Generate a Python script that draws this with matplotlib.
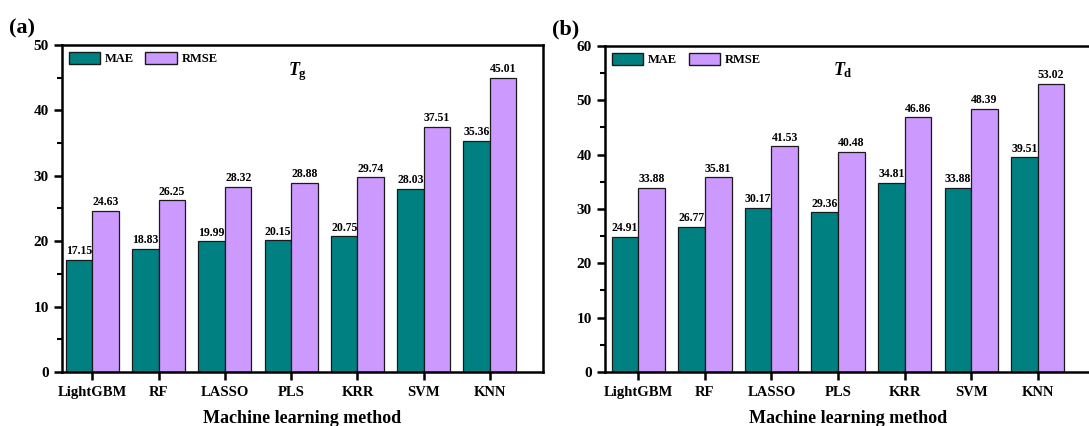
import matplotlib.pyplot as plt
import numpy as np
from matplotlib.ticker import MultipleLocator
from matplotlib.patches import Patch

plt.rcParams['font.family'] = ['Liberation Serif', 'DejaVu Serif']
plt.rcParams['font.weight'] = 'bold'
plt.rcParams['mathtext.fontset'] = 'custom'
plt.rcParams['mathtext.it'] = 'Liberation Serif:italic:bold'
plt.rcParams['mathtext.rm'] = 'Liberation Serif:bold'

methods = ['LightGBM', 'RF', 'LASSO', 'PLS', 'KRR', 'SVM', 'KNN']

# glass transition temperature errors
tg_mae = [17.15, 18.83, 19.99, 20.15, 20.75, 28.03, 35.36]
tg_rmse = [24.63, 26.25, 28.32, 28.88, 29.74, 37.51, 45.01]

# decomposition temperature errors
td_mae = [24.91, 26.77, 30.17, 29.36, 34.81, 33.88, 39.51]
td_rmse = [33.88, 35.81, 41.53, 40.48, 46.86, 48.39, 53.02]

MAE_COLOR = '#008080'
RMSE_COLOR = '#CC99FF'
EDGE = '#1a1a1a'


def draw_panel(ax, mae, rmse, ymax, subtitle, tag, xlim):
    x = np.arange(len(methods))
    w = 0.4
    b1 = ax.bar(x - w / 2, mae, w, color=MAE_COLOR, edgecolor=EDGE, linewidth=0.9)
    b2 = ax.bar(x + w / 2, rmse, w, color=RMSE_COLOR, edgecolor=EDGE, linewidth=0.9)
    for bars, vals in ((b1, mae), (b2, rmse)):
        for rect, v in zip(bars, vals):
            ax.text(rect.get_x() + rect.get_width() / 2, v + ymax * 0.008, f'{v:.2f}',
                    ha='center', va='bottom', fontsize=8.5, fontweight='bold')

    ax.set_xlim(*xlim)
    ax.set_ylim(0, ymax)
    ax.set_xticks(x)
    ax.set_xticklabels(methods, fontsize=10.5, fontweight='bold')
    ax.yaxis.set_major_locator(MultipleLocator(10))
    ax.yaxis.set_minor_locator(MultipleLocator(5))
    ax.tick_params(axis='y', which='major', direction='out', length=6, width=1.8, labelsize=11)
    ax.tick_params(axis='y', which='minor', direction='out', length=3.5, width=1.5)
    ax.tick_params(axis='x', which='major', direction='out', length=6, width=1.8, pad=4)
    for lab in ax.get_yticklabels():
        lab.set_fontweight('bold')
    for s in ax.spines.values():
        s.set_linewidth(1.8)
    ax.set_xlabel('Machine learning method', fontsize=13, fontweight='bold', labelpad=8)

    ax.legend(handles=[Patch(facecolor=MAE_COLOR, edgecolor=EDGE, label='MAE'),
                       Patch(facecolor=RMSE_COLOR, edgecolor=EDGE, label='RMSE')],
              loc='upper left', ncol=2, frameon=False,
              handlelength=2.5, handleheight=1.1, columnspacing=0.9,
              handletextpad=0.4, borderaxespad=0.15, prop={'weight': 'bold', 'size': 9})

    ax.text(0.49, 0.955, subtitle, transform=ax.transAxes, ha='center', va='top', fontsize=13)
    ax.text(-0.11, 1.02, tag, transform=ax.transAxes, ha='left', va='bottom',
            fontsize=16, fontweight='bold')


fig = plt.figure(figsize=(10.89, 4.26), dpi=100)
ax1 = fig.add_axes([0.0569, 0.1268, 0.4417, 0.7676])
ax2 = fig.add_axes([0.5556, 0.1268, 0.4463, 0.7653])

draw_panel(ax1, tg_mae, tg_rmse, 50, r'$T_{\mathrm{g}}$', '(a)', (-0.46, 6.8))
draw_panel(ax2, td_mae, td_rmse, 60, r'$T_{\mathrm{d}}$', '(b)', (-0.5, 6.8))

fig.savefig('out.png', dpi=100)
